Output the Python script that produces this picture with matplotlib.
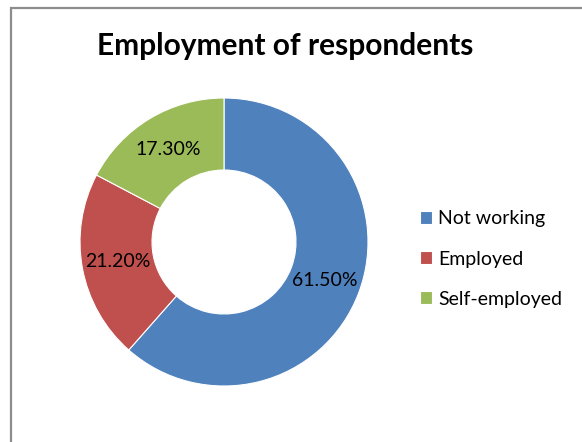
import matplotlib.pyplot as plt
from matplotlib.patches import Rectangle

categories = ['Not working', 'Employed', 'Self-employed']
shares = [61.5, 21.2, 17.3]
colors = ['#4F81BD', '#C0504D', '#9BBB59']

plt.rcParams['font.family'] = ['Lato', 'DejaVu Sans']

W, H = 582, 442
fig = plt.figure(figsize=(W / 100, H / 100), dpi=100)

# outer frame, cropped at right and bottom like the original
fig.patches.append(Rectangle((11 / W, -0.1), 1.2, (H - 8) / H + 0.1,
                             transform=fig.transFigure, fill=False,
                             edgecolor='#8c8c8c', linewidth=1.6))

# donut centred at (224, 242) px, outer radius 144 px
cx, cy, r = 224, 242, 144
ax = fig.add_axes([(cx - r) / W, (H - cy - r) / H, 2 * r / W, 2 * r / H])
wedges, texts, autotexts = ax.pie(
    shares, colors=colors, startangle=90, counterclock=False,
    radius=1.0, autopct=lambda p: f'{p:.2f}%', pctdistance=0.75,
    wedgeprops=dict(width=0.5, edgecolor='white', linewidth=0.8),
    textprops=dict(fontsize=14, color='black'))
ax.set_xlim(-1, 1)
ax.set_ylim(-1, 1)
ax.set_aspect('equal')

fig.text(285 / W, 1 - 46 / H, 'Employment of respondents', ha='center',
         va='center', fontsize=21.5, fontweight='bold')

fig.legend(wedges, categories, loc='center left',
           bbox_to_anchor=(420 / W, 1 - 259 / H), frameon=False,
           fontsize=14, handlelength=0.62, handleheight=0.62,
           handletextpad=0.3, labelspacing=1.19,
           borderpad=0, borderaxespad=0)

fig.savefig('out.png', dpi=100)
